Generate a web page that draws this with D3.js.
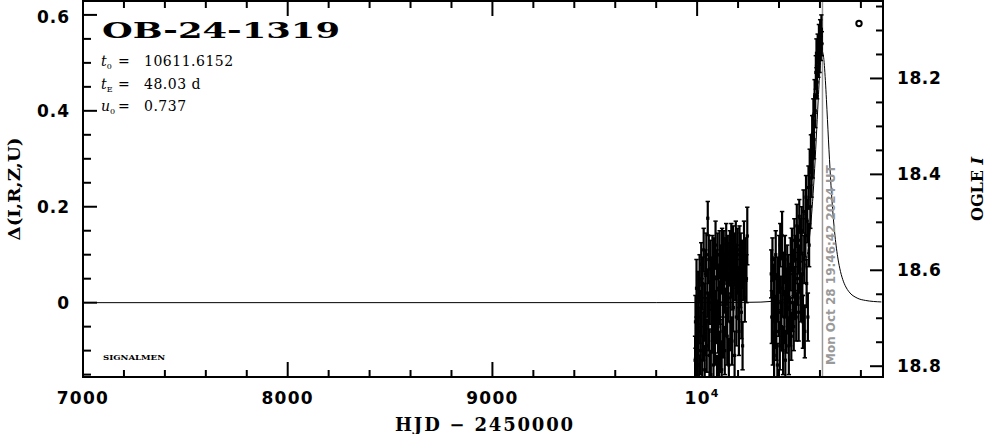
<!DOCTYPE html>
<html><head><meta charset="utf-8">
<script src="https://cdn.jsdelivr.net/npm/d3@7/dist/d3.min.js"></script>
<style>body{margin:0;background:#fff}svg{display:block}</style>
</head><body><svg id="c" width="986" height="434"></svg>
<script>
// ---------- data ----------
const obsHJD = [
 9990, 9992, 9995, 9997, 10000, 10002, 10005, 10007, 10010, 10012,
 10015, 10017, 10020, 10022, 10025, 10027, 10030, 10032, 10035, 10037,
 10040, 10042, 10045, 10047, 10050, 10052, 10055, 10057, 10060, 10062,
 10065, 10067, 10070, 10072, 10075, 10077, 10080, 10082, 10085, 10087,
 10090, 10092, 10095, 10097, 10100, 10102, 10105, 10107, 10110, 10112,
 10115, 10117, 10120, 10122, 10125, 10127, 10130, 10132, 10135, 10137,
 10140, 10142, 10145, 10147, 10150, 10152, 10155, 10157, 10160, 10162,
 10165, 10167, 10170, 10172, 10175, 10177, 10180, 10183, 10186, 10189,
 10192, 10195, 10198, 10201, 10204, 10207, 10210, 10213, 10216, 10219,
 10222, 10225, 10229, 10233, 10237, 10241, 10245,
 10362, 10365, 10368, 10370, 10373, 10376, 10379, 10381, 10384, 10387,
 10390, 10392, 10395, 10398, 10401, 10404, 10406, 10409, 10412, 10415,
 10418, 10420, 10423, 10426, 10429, 10431, 10434, 10437, 10440, 10443,
 10446, 10448, 10451, 10454, 10457, 10460, 10463, 10466, 10469, 10472,
 10475, 10478, 10481, 10484, 10487, 10490, 10493, 10496, 10499, 10502,
 10505, 10508, 10511, 10514, 10517, 10520, 10523, 10526, 10529, 10532,
 10535, 10538, 10541, 10544, 10547, 10550, 10553, 10556, 10559, 10562,
 10565, 10568, 10571, 10574, 10577, 10580, 10583, 10586, 10589, 10592,
 10595, 10598, 10601, 10604, 10607, 10609
];
const obsDelta = [
 -0.12, -0.04, -0.16, 0.03, -0.08, -0.13, 0.01, -0.06, -0.17, 0.05,
 -0.03, -0.10, 0.08, -0.01, -0.12, 0.04, -0.07, 0.11, -0.02, -0.14,
 0.06, -0.05, 0.10, -0.09, 0.02, 0.176, -0.04, 0.09, -0.11, 0.00,
 0.07, -0.15, 0.04, -0.06, 0.09, -0.02, -0.13, 0.08, 0.01, -0.08,
 0.12, -0.03, 0.05, -0.16, 0.10, -0.05, 0.03, -0.12, 0.10, 0.00,
 -0.09, 0.07, -0.14, 0.11, 0.02, -0.06, 0.10, 0.04, -0.10, 0.09,
 -0.02, 0.12, 0.05, -0.07, 0.09, 0.01, -0.13, 0.08, 0.10, -0.04,
 0.06, 0.11, -0.08, 0.03, 0.10, -0.01, 0.09, -0.11, 0.05, 0.12,
 -0.03, 0.07, 0.11, 0.02, -0.06, 0.10, 0.04, 0.10, -0.02, 0.08,
 -0.09, 0.06, 0.11, 0.01, 0.09, 0.05, 0.139,
 0.06, -0.03, 0.09, -0.08, 0.02, -0.11, 0.05, -0.04, 0.10, -0.06,
 0.01, -0.13, 0.04, -0.02, 0.08, -0.09, 0.12, 0.00, -0.05, 0.14,
 0.03, -0.10, 0.06, -0.03, 0.09, -0.12, 0.02, -0.06, 0.07, -0.01,
 0.05, -0.09, 0.03, -0.04, 0.08, -0.07, 0.11, 0.00, 0.06, -0.05,
 0.13, 0.02, 0.09, -0.03, 0.16, 0.05, 0.11, -0.02, 0.18, 0.07,
 0.13, 0.01, 0.15, 0.06, -0.04, 0.19, 0.09, -0.06, 0.14, 0.22,
 0.04, 0.17, -0.03, 0.24, 0.12, 0.28, 0.20, 0.31, 0.26, 0.35,
 0.30, 0.39, 0.34, 0.43, 0.40, 0.48, 0.52, 0.46, 0.53, 0.50,
 0.55, 0.51, 0.56, 0.53, 0.57, 0.54
];
const obsErr = [
 0.05, 0.055, 0.045, 0.06, 0.05, 0.045, 0.055, 0.05, 0.06, 0.05,
 0.055, 0.05, 0.045, 0.06, 0.05, 0.055, 0.05, 0.045, 0.06, 0.05,
 0.05, 0.06, 0.045, 0.055, 0.05, 0.035, 0.06, 0.05, 0.055, 0.045,
 0.06, 0.05, 0.055, 0.045, 0.05, 0.06, 0.05, 0.055, 0.045, 0.05,
 0.05, 0.055, 0.06, 0.05, 0.045, 0.055, 0.05, 0.06, 0.05, 0.045,
 0.055, 0.05, 0.06, 0.045, 0.05, 0.055, 0.05, 0.06, 0.05, 0.045,
 0.05, 0.045, 0.055, 0.06, 0.05, 0.05, 0.055, 0.045, 0.05, 0.06,
 0.05, 0.055, 0.05, 0.045, 0.06, 0.05, 0.055, 0.05, 0.045, 0.05,
 0.06, 0.05, 0.045, 0.055, 0.05, 0.06, 0.05, 0.045, 0.055, 0.05,
 0.05, 0.055, 0.06, 0.05, 0.045, 0.05, 0.06,
 0.05, 0.055, 0.045, 0.05, 0.06, 0.05, 0.045, 0.055, 0.05, 0.06,
 0.05, 0.045, 0.055, 0.05, 0.06, 0.05, 0.045, 0.055, 0.05, 0.05,
 0.06, 0.05, 0.045, 0.055, 0.05, 0.06, 0.05, 0.045, 0.05, 0.055,
 0.05, 0.06, 0.045, 0.05, 0.055, 0.05, 0.045, 0.06, 0.05, 0.05,
 0.045, 0.055, 0.05, 0.05, 0.045, 0.055, 0.05, 0.06, 0.035, 0.05,
 0.045, 0.05, 0.05, 0.045, 0.055, 0.045, 0.05, 0.055, 0.045, 0.045,
 0.05, 0.045, 0.05, 0.045, 0.045, 0.04, 0.045, 0.04, 0.04, 0.04,
 0.04, 0.035, 0.04, 0.035, 0.035, 0.035, 0.03, 0.035, 0.03, 0.03,
 0.03, 0.03, 0.03, 0.025, 0.03, 0.025
];
const modelHJD = [
 7000, 9800, 10211.6, 10311.6, 10361.6, 10401.6, 10441.6, 10481.6, 10496.6, 10511.6,
 10526.6, 10536.6, 10551.6, 10561.6, 10566.6, 10571.6, 10576.6, 10581.6, 10586.6, 10591.6,
 10596.6, 10601.6, 10606.6, 10611.6,
 10616.6, 10621.6, 10626.6, 10631.6, 10636.6, 10641.6, 10646.6, 10651.6, 10656.6, 10661.6,
 10671.6, 10686.6, 10696.6, 10711.6, 10726.6, 10741.6, 10781.6, 10821.6, 10900
];
const modelDelta = [
 0, 0.0001, 0.00045, 0.0012, 0.0026, 0.0047, 0.0096, 0.0228, 0.0327, 0.0480,
 0.0720, 0.0955, 0.1472, 0.1967, 0.2270, 0.2611, 0.2988, 0.3394, 0.3819, 0.4240,
 0.4628, 0.4946, 0.5160, 0.5230,
 0.5160, 0.4946, 0.4628, 0.4240, 0.3819, 0.3394, 0.2988, 0.2611, 0.2270, 0.1967,
 0.1472, 0.0955, 0.0720, 0.0480, 0.0327, 0.0228, 0.0096, 0.0047, 0.0015
];
const xTickValues = [7000, 8000, 9000, 10000];
const xTickLabels = ["7000", "8000", "9000", "10|4"];
const yLeftTickValues = [0, 0.2, 0.4, 0.6];
const yLeftTickLabels = ["0", "0.2", "0.4", "0.6"];
const yRightTickValues = [18.2, 18.4, 18.6, 18.8];
const yRightTickLabels = ["18.2", "18.4", "18.6", "18.8"];
const eventName = "OB-24-1319";
const paramNames = ["t|0", "t|E", "u|0"];
const paramValues = ["10611.6152", "48.03 d", "0.737"];
const nowHJD = 10612.32;
const nowLabel = "Mon Oct 28 19:46:42 2024 UT";
const baselineI = 18.6675;

// ---------- layout ----------
const L = 83, R = 883, T = 1, B = 377;
const svg = d3.select("#c");
const x = d3.scaleLinear().domain([7000, 10908]).range([L, R]);
const y = d3.scaleLinear().domain([-0.155, 0.629]).range([B, T]);
const yR = d3.scaleLinear().domain([baselineI + 0.155, baselineI - 0.629]).range([B, T]);

const sans = "'DejaVu Sans', sans-serif";
const serif = "'DejaVu Serif', serif";

svg.append("clipPath").attr("id", "clip").append("rect")
  .attr("x", L).attr("y", T).attr("width", R - L).attr("height", B - T);
const plot = svg.append("g").attr("clip-path", "url(#clip)");

// model curve
const model = modelHJD.map((t, i) => [t, modelDelta[i]]);
plot.append("path").datum(model)
  .attr("fill", "none").attr("stroke", "#000").attr("stroke-width", 1)
  .attr("d", d3.line().x(d => x(d[0])).y(d => y(d[1])).curve(d3.curveMonotoneX));

// "now" line
plot.append("line").attr("x1", x(nowHJD)).attr("x2", x(nowHJD))
  .attr("y1", T).attr("y2", B).attr("stroke", "#999").attr("stroke-width", 1.5);

// observations
const n = Math.min(obsHJD.length, obsDelta.length, obsErr.length);
const obs = d3.range(n).map(i => ({t: obsHJD[i], d: obsDelta[i], e: obsErr[i]}));
const g = plot.append("g").attr("stroke", "#000");
obs.forEach(o => {
  const cx = x(o.t), y1 = y(o.d - o.e), y2 = y(o.d + o.e);
  g.append("line").attr("x1", cx).attr("x2", cx).attr("y1", y1).attr("y2", y2).attr("stroke-width", 2.2);
  g.append("line").attr("x1", cx - 2.2).attr("x2", cx + 2.2).attr("y1", y1).attr("y2", y1).attr("stroke-width", 1.5);
  g.append("line").attr("x1", cx - 2.2).attr("x2", cx + 2.2).attr("y1", y2).attr("y2", y2).attr("stroke-width", 1.5);
  g.append("rect").attr("x", cx - 1.6).attr("y", y(o.d) - 1.6).attr("width", 3.2).attr("height", 3.2)
    .attr("fill", "#000").attr("stroke", "none");
});

// vertical now label
svg.append("text").attr("transform", `translate(${x(nowHJD) + 12.5},265) rotate(-90)`)
  .attr("text-anchor", "middle").attr("font-family", sans).attr("font-weight", "bold")
  .attr("font-size", 13).attr("fill", "#999")
  .attr("textLength", 200).attr("lengthAdjust", "spacingAndGlyphs").text(nowLabel);

// small marker
svg.append("circle").attr("cx", 859).attr("cy", 23.5).attr("r", 2.7)
  .attr("fill", "none").attr("stroke", "#000").attr("stroke-width", 2);

// ---------- axes ----------
const axG = svg.append("g").attr("stroke", "#000").attr("stroke-width", 2);
d3.range(7000, 10901, 200).forEach(v => {
  const len = v % 1000 === 0 ? 15 : 7;
  axG.append("line").attr("x1", x(v)).attr("x2", x(v)).attr("y1", B).attr("y2", B - len);
  axG.append("line").attr("x1", x(v)).attr("x2", x(v)).attr("y1", T).attr("y2", T + len);
});
d3.range(-0.15, 0.6251, 0.05).forEach(v => {
  const major = Math.abs(v / 0.2 - Math.round(v / 0.2)) < 1e-6;
  axG.append("line").attr("x1", L).attr("x2", L + (major ? 14 : 8)).attr("y1", y(v)).attr("y2", y(v));
});
d3.range(18.05, 18.8201, 0.05).forEach(v => {
  const major = Math.abs(v / 0.2 - Math.round(v / 0.2)) < 1e-6;
  axG.append("line").attr("x1", R).attr("x2", R - (major ? 13 : 7)).attr("y1", yR(v)).attr("y2", yR(v));
});
svg.append("rect").attr("x", L).attr("y", T).attr("width", R - L).attr("height", B - T)
  .attr("fill", "none").attr("stroke", "#000").attr("stroke-width", 2);

// tick labels
xTickValues.forEach((v, i) => {
  const lab = xTickLabels[i];
  const t = svg.append("text").attr("x", x(v)).attr("y", 403.5)
    .attr("text-anchor", "middle").attr("font-family", sans).attr("font-weight", "bold")
    .attr("font-size", 17).attr("letter-spacing", 1.3);
  if (lab.includes("|")) {
    const [base, sup] = lab.split("|");
    t.append("tspan").text(base);
    t.append("tspan").attr("font-size", 11).attr("dy", -7).text(sup);
    t.attr("x", x(v) + 5);
  } else t.text(lab);
});
yLeftTickValues.forEach((v, i) => {
  svg.append("text").attr("x", 70).attr("y", y(v) + 6 + (v > 0.55 ? 2 : 0))
    .attr("text-anchor", "end").attr("font-family", sans).attr("font-weight", "bold")
    .attr("font-size", 17).attr("letter-spacing", 1).text(yLeftTickLabels[i]);
});
yRightTickValues.forEach((v, i) => {
  svg.append("text").attr("x", 897).attr("y", yR(v) + 6)
    .attr("text-anchor", "start").attr("font-family", sans).attr("font-weight", "bold")
    .attr("font-size", 17).attr("letter-spacing", 0.6).text(yRightTickLabels[i]);
});

// axis titles
svg.append("text").attr("x", 484).attr("y", 431).attr("text-anchor", "middle")
  .attr("font-family", serif).attr("font-weight", "bold").attr("font-size", 18)
  .attr("textLength", 178).attr("lengthAdjust", "spacing")
  .text("HJD \u2212 2450000");
svg.append("text").attr("transform", "translate(20,189) rotate(-90)").attr("text-anchor", "middle")
  .attr("font-family", serif).attr("font-weight", "bold").attr("font-size", 17)
  .attr("textLength", 103).attr("lengthAdjust", "spacingAndGlyphs")
  .text("\u0394(I,R,Z,U)");
const ot = svg.append("text").attr("transform", "translate(983,189) rotate(-90)").attr("text-anchor", "middle")
  .attr("font-family", serif).attr("font-weight", "bold").attr("font-size", 16);
ot.append("tspan").text("OGLE ");
ot.append("tspan").attr("font-style", "italic").text("I");

// title and parameters
svg.append("text").attr("x", 102).attr("y", 37.5).attr("font-family", serif).attr("font-weight", "bold")
  .attr("font-size", 23).attr("textLength", 238).attr("lengthAdjust", "spacingAndGlyphs")
  .text(eventName);
const pY = [66, 89, 111];
paramNames.forEach((nm, i) => {
  const [sym, sub] = nm.split("|");
  const t = svg.append("text").attr("x", 101).attr("y", pY[i]).attr("font-family", serif).attr("font-size", 14);
  t.append("tspan").attr("font-style", "italic").text(sym);
  t.append("tspan").attr("font-size", 8).attr("dy", 3).text(sub);
  t.append("tspan").attr("x", 118).attr("dy", -3).text("=");
  t.append("tspan").attr("x", 144).attr("letter-spacing", 0.5).text(paramValues[i]);
});
svg.append("text").attr("x", 103).attr("y", 359.5).attr("font-family", serif).attr("font-weight", "bold")
  .attr("font-size", 8).attr("textLength", 62).attr("lengthAdjust", "spacingAndGlyphs").text("SIGNALMEN");
</script></body></html>
